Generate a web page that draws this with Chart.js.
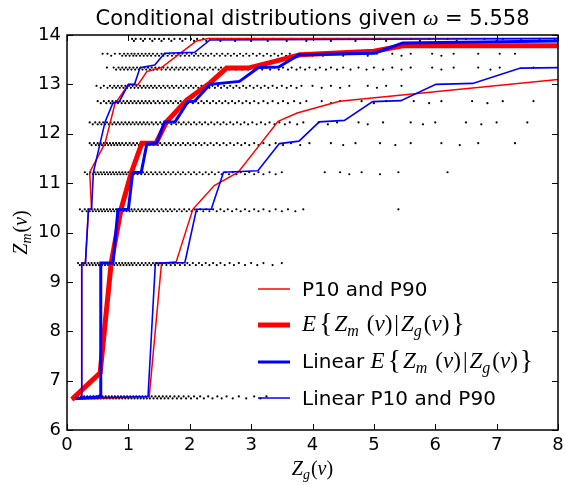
<!DOCTYPE html>
<html>
<head>
<meta charset="utf-8">
<script src="https://cdn.jsdelivr.net/npm/chart.js@4.4.1/dist/chart.umd.min.js"></script>
<style>
html, body { margin: 0; padding: 0; background: #fff; }
</style>
</head>
<body>
<canvas id="chart" width="565" height="485"></canvas>
<script>
// tick labels
const xTickLabels = [0, 1, 2, 3, 4, 5, 6, 7, 8];
const yTickLabels = [6, 7, 8, 9, 10, 11, 12, 13, 14];

// scatter bands: one Z_m level each, with the Z_g values read along it
const bandLevels = [13.92, 13.62, 13.34, 12.97, 12.66, 12.23, 11.81, 11.22, 10.47, 9.38, 6.68];
const band0 = [1.06,1.12,1.2,1.27,1.35,1.43,1.5,1.58,1.66,1.75,1.84,1.93,2.02,2.12,2.22,2.33,2.45,2.56,2.68,2.8,2.93,3.05,3.2,3.35,3.5,3.66,3.82,4.0,4.2,4.4,4.6,4.85,5.1,5.35,5.6,5.9,6.2,6.5,6.8,7.1,7.4,7.7,7.95];
const band1 = [0.58,0.66,0.78,0.86,0.93,0.99,1.05,1.1,1.16,1.22,1.28,1.34,1.4,1.47,1.54,1.6,1.67,1.74,1.81,1.88,1.95,2.03,2.1,2.18,2.26,2.35,2.44,2.53,2.62,2.72,2.82,2.92,3.03,3.14,3.26,3.38,3.5,3.63,3.77,3.92,4.08,4.25,4.42,4.6,4.8,5.05,5.3,5.6,5.95,6.3,6.7,7.05,7.3];
const band2 = [0.65,0.76,0.84,0.9,0.96,1.02,1.08,1.14,1.2,1.26,1.32,1.38,1.44,1.5,1.57,1.64,1.71,1.78,1.85,1.92,2.0,2.08,2.16,2.24,2.33,2.42,2.51,2.6,2.7,2.8,2.9,3.0,3.12,3.25,3.38,3.52,3.66,3.8,3.95,4.12,4.3,4.5,4.75,5.0,5.3,5.6,5.95,6.3,6.7,7.05,7.6];
const band3 = [0.48,0.6,0.7,0.77,0.83,0.89,0.95,1.01,1.07,1.13,1.19,1.25,1.31,1.37,1.43,1.5,1.57,1.64,1.71,1.78,1.86,1.94,2.02,2.1,2.19,2.28,2.37,2.46,2.56,2.66,2.76,2.87,2.98,3.1,3.22,3.35,3.5,3.65,3.82,4.0,4.3,4.6,4.9,5.2,5.45];
const band4 = [0.5,0.6,0.68,0.74,0.8,0.86,0.92,0.98,1.04,1.1,1.16,1.22,1.28,1.34,1.41,1.48,1.55,1.62,1.69,1.77,1.85,1.93,2.01,2.1,2.19,2.28,2.38,2.48,2.58,2.69,2.8,2.92,3.05,3.2,3.35,3.52,3.7,3.9,4.15,4.45,4.8,5.2,5.65,6.1,6.6,7.1,7.6];
const band5 = [0.37,0.46,0.53,0.59,0.65,0.71,0.77,0.83,0.89,0.95,1.01,1.07,1.13,1.19,1.25,1.31,1.38,1.45,1.52,1.59,1.66,1.74,1.82,1.9,1.98,2.07,2.16,2.25,2.35,2.45,2.55,2.66,2.77,2.89,3.02,3.16,3.3,3.46,3.63,3.85,4.1,4.4,4.75,5.15,5.6,6.0,6.5,7.0,7.5];
const band6 = [0.37,0.44,0.5,0.55,0.6,0.65,0.7,0.75,0.8,0.85,0.9,0.96,1.02,1.08,1.14,1.2,1.26,1.32,1.38,1.45,1.52,1.59,1.66,1.73,1.81,1.89,1.97,2.06,2.15,2.24,2.34,2.44,2.55,2.66,2.78,2.9,3.05,3.2,3.4,3.65,3.95,4.3,4.7,5.1,5.6,6.1,6.7,7.3];
const band7 = [0.29,0.38,0.45,0.5,0.55,0.6,0.65,0.7,0.75,0.8,0.85,0.9,0.95,1.0,1.06,1.12,1.18,1.24,1.3,1.37,1.44,1.51,1.58,1.65,1.73,1.81,1.89,1.98,2.07,2.16,2.26,2.36,2.47,2.58,2.7,2.83,2.97,3.12,3.3,3.5,4.2,4.45,4.8,5.4,6.2];
const band8 = [0.21,0.29,0.35,0.4,0.45,0.5,0.55,0.6,0.65,0.7,0.75,0.8,0.85,0.9,0.95,1.0,1.05,1.1,1.16,1.22,1.28,1.34,1.4,1.47,1.54,1.61,1.68,1.75,1.83,1.91,1.99,2.08,2.17,2.27,2.38,2.5,2.62,2.76,2.9,3.05,3.2,3.4,3.6,3.85,5.4];
const band9 = [0.18,0.25,0.3,0.35,0.4,0.45,0.5,0.55,0.6,0.65,0.7,0.75,0.8,0.85,0.9,0.95,1.0,1.05,1.1,1.16,1.22,1.28,1.34,1.4,1.46,1.52,1.59,1.66,1.73,1.8,1.88,1.96,2.05,2.15,2.26,2.38,2.5,2.65,2.8,3.0,3.2,3.5];
const band10 = [0.17,0.23,0.28,0.33,0.38,0.43,0.48,0.53,0.58,0.63,0.68,0.73,0.78,0.83,0.88,0.93,0.98,1.03,1.08,1.13,1.18,1.23,1.28,1.33,1.38,1.44,1.5,1.56,1.62,1.68,1.75,1.82,1.9,1.98,2.07,2.17,2.3,2.45,2.6,2.8,3.05,3.25];

// second, slightly lower row of points inside each band
const bandLevelsB = [13.88, 13.58, 13.30, 12.93, 12.62, 12.19, 11.77, 11.18, 10.43, 9.34, 6.64];
const bandB0 = [1.09,1.24,1.39,1.54,1.7,1.88,2.07,2.27,2.5,2.74,3.0,3.27,3.58,3.9,4.3,4.7,5.2,5.75,6.35,7.0,7.6];
const bandB1 = [0.72,0.9,0.96,1.02,1.08,1.13,1.19,1.25,1.31,1.37,1.44,1.5,1.57,1.64,1.71,1.78,1.85,1.92,1.99,2.07,2.14,2.22,2.3,2.4,2.49,2.58,2.67,2.77,2.87,2.97,3.09,3.2,3.32,3.44,3.57,3.7,3.85,4.0,4.17,4.5,4.9,5.45,6.1];
const bandB2 = [0.8,0.87,0.93,0.99,1.05,1.11,1.17,1.23,1.29,1.35,1.41,1.47,1.54,1.61,1.68,1.75,1.82,1.89,1.96,2.04,2.12,2.2,2.29,2.38,2.47,2.56,2.65,2.75,2.85,2.95,3.06,3.18,3.31,3.45,3.6,3.74,3.88,4.05,4.22,4.4,4.62,4.88,5.15,5.45,6.1,6.9];
const bandB3 = [0.55,0.66,0.74,0.8,0.86,0.92,0.98,1.04,1.1,1.16,1.22,1.28,1.34,1.4,1.46,1.53,1.6,1.67,1.74,1.82,1.9,1.98,2.06,2.14,2.23,2.32,2.41,2.51,2.61,2.71,2.81,2.92,3.04,3.16,3.28,3.42,3.58,3.74,4.15,4.45,5.05];
const bandB4 = [0.55,0.64,0.71,0.77,0.83,0.89,0.95,1.01,1.07,1.13,1.19,1.25,1.31,1.37,1.44,1.51,1.58,1.65,1.73,1.81,1.89,1.97,2.05,2.14,2.23,2.33,2.43,2.53,2.63,2.74,2.86,2.98,3.12,3.27,3.44,3.6,3.8,4.3,5.0,5.9,6.85];
const bandB5 = [0.42,0.5,0.56,0.62,0.68,0.74,0.8,0.86,0.92,0.98,1.04,1.1,1.16,1.22,1.28,1.34,1.41,1.48,1.55,1.62,1.7,1.78,1.86,1.94,2.02,2.11,2.2,2.3,2.4,2.5,2.6,2.71,2.83,2.95,3.09,3.23,3.38,3.55,3.75,4.25,4.9,5.8,6.75];
const bandB6 = [0.4,0.47,0.52,0.57,0.62,0.67,0.72,0.77,0.82,0.87,0.93,0.99,1.05,1.11,1.17,1.23,1.29,1.35,1.41,1.48,1.55,1.62,1.69,1.77,1.85,1.93,2.01,2.1,2.19,2.29,2.39,2.49,2.6,2.72,2.84,2.97,3.12,3.3,3.52,3.8,4.5,5.35,6.4];
const bandB7 = [0.33,0.42,0.47,0.52,0.57,0.62,0.67,0.72,0.77,0.82,0.87,0.92,0.97,1.03,1.09,1.15,1.21,1.27,1.33,1.4,1.47,1.54,1.61,1.69,1.77,1.85,1.93,2.02,2.11,2.21,2.31,2.41,2.52,2.64,2.76,2.9,3.05,3.2,3.4,4.6,5.1];
const bandB8 = [0.25,0.32,0.37,0.42,0.47,0.52,0.57,0.62,0.67,0.72,0.77,0.82,0.87,0.92,0.97,1.02,1.07,1.13,1.19,1.25,1.31,1.37,1.43,1.5,1.57,1.64,1.71,1.79,1.87,1.95,2.03,2.12,2.22,2.32,2.44,2.56,2.69,2.83,2.97,3.12,3.3,3.5,3.72];
const bandB9 = [0.21,0.27,0.32,0.37,0.42,0.47,0.52,0.57,0.62,0.67,0.72,0.77,0.82,0.87,0.92,0.97,1.02,1.07,1.13,1.19,1.25,1.31,1.37,1.43,1.49,1.55,1.62,1.69,1.76,1.84,1.92,2.0,2.1,2.2,2.32,2.44,2.57,2.72,2.9,3.1,3.35];
const bandB10 = [0.2,0.25,0.3,0.35,0.4,0.45,0.5,0.55,0.6,0.65,0.7,0.75,0.8,0.85,0.9,0.95,1.0,1.05,1.1,1.15,1.2,1.25,1.3,1.35,1.41,1.47,1.53,1.59,1.65,1.72,1.79,1.86,1.94,2.02,2.12,2.23,2.37,2.52,2.7,2.92,3.15];

const bandsA = [band0, band1, band2, band3, band4, band5, band6, band7, band8, band9, band10];
const bandsB = [bandB0, bandB1, bandB2, bandB3, bandB4, bandB5, bandB6, bandB7, bandB8, bandB9, bandB10];

// P10 and P90 (red)
const p10X = [0.08,0.24,0.24,0.30,0.35,0.40,0.37,0.62,0.78,1.0,1.16,1.30,1.54,1.95,2.11,2.3,8];
const p10Y = [6.62,6.65,9.38,9.38,10.47,10.47,11.22,11.81,12.6,13.0,13.0,13.26,13.34,13.73,13.88,13.93,13.93];
const p90X = [0.08,1.34,1.54,1.78,2.05,2.4,2.79,3.44,3.75,4.44,8];
const p90Y = [6.62,6.68,9.38,9.41,10.47,10.95,11.22,12.25,12.42,12.66,13.1];

// E{Zm|Zg} (thick red)
const eX = [0.08,0.54,0.72,0.88,1.05,1.22,1.45,1.62,1.95,2.33,2.6,2.95,3.4,3.8,5.0,5.47,8];
const eY = [6.62,7.16,9.38,10.47,11.22,11.81,11.81,12.24,12.68,13.03,13.33,13.33,13.47,13.6,13.67,13.78,13.78];

// linear E{Zm|Zg} (blue)
const linEX = [0.13,0.5,0.54,0.55,0.75,0.83,1.0,1.07,1.21,1.30,1.46,1.59,1.76,1.97,2.08,2.33,2.81,3.12,3.45,3.78,5.01,5.47,8];
const linEY = [6.64,6.67,6.7,9.38,9.38,10.46,10.47,11.21,11.22,11.79,11.81,12.24,12.24,12.65,12.66,13.0,13.06,13.34,13.35,13.6,13.63,13.84,13.88];

// linear P10 and P90 (thin blue)
const linP10X = [0.13,0.24,0.24,0.30,0.35,0.40,0.43,0.54,0.62,0.75,0.85,1.0,1.1,1.19,1.43,1.59,2.08,2.33,8];
const linP10Y = [6.64,6.65,9.38,9.38,10.47,10.47,11.22,11.81,12.24,12.63,12.65,13.0,13.0,13.34,13.39,13.63,13.65,13.9,13.93];
const linP90X = [0.13,1.32,1.44,1.92,2.11,2.35,2.55,3.11,3.46,3.78,4.11,4.52,4.98,5.44,6.01,6.61,7.39,8];
const linP90Y = [6.64,6.68,9.38,9.39,10.47,10.47,11.22,11.25,11.8,11.85,12.24,12.27,12.65,12.67,13.0,13.02,13.33,13.34];

const RED = '#ff0000';
const BLUE = '#0000ff';
const SANS = '"DejaVu Sans", sans-serif';
const SERIF = '"Liberation Serif", serif';

function pts(xs, ys) {
    return xs.map((x, i) => ({ x: x, y: ys[i] }));
}

function lineSet(xs, ys, color, width, order) {
    return {
        data: pts(xs, ys), showLine: true, borderColor: color, borderWidth: width,
        pointRadius: 0, fill: false, tension: 0, order: order
    };
}

const scatterData = [];
bandsA.forEach((b, i) => b.forEach(x => scatterData.push({ x: x, y: bandLevels[i] })));
bandsB.forEach((b, i) => b.forEach(x => scatterData.push({ x: x, y: bandLevelsB[i] })));

// draws a row of text runs with different fonts (g = extra gap before run)
function drawRuns(ctx, runs, x, y, align) {
    let w = 0;
    runs.forEach(r => { ctx.font = r.f; w += ctx.measureText(r.t).width + (r.g || 0); });
    let cx = align === 'center' ? x - w / 2 : x;
    ctx.textBaseline = 'alphabetic';
    ctx.textAlign = 'left';
    runs.forEach(r => {
        ctx.font = r.f;
        cx += r.g || 0;
        ctx.fillText(r.t, cx, y + (r.dy || 0));
        cx += ctx.measureText(r.t).width;
    });
    return w;
}

function mathZ(sub, size) {
    const it = 'italic ' + size + 'px ' + SERIF;
    const rm = size + 'px ' + SERIF;
    const sb = 'italic ' + Math.round(size * 0.7) + 'px ' + SERIF;
    return [
        { t: 'Z', f: it }, { t: sub, f: sb, dy: size * 0.22 },
        { t: '(', f: rm, g: 1 }, { t: 'v', f: it }, { t: ')', f: rm }
    ];
}

function condExpr(size) {
    const it = 'italic ' + size + 'px ' + SERIF;
    const rm = size + 'px ' + SERIF;
    const br = (size + 5) + 'px ' + SERIF;
    const sb = 'italic ' + Math.round(size * 0.7) + 'px ' + SERIF;
    return [
        { t: 'E', f: it }, { t: '{', f: br, g: 3, dy: 1 },
        { t: 'Z', f: it, g: 2 }, { t: 'm', f: sb, dy: size * 0.22 }, { t: '(', f: rm, g: 8 }, { t: 'v', f: it }, { t: ')', f: rm },
        { t: '|', f: rm, g: 2 },
        { t: 'Z', f: it, g: 2 }, { t: 'g', f: sb, dy: size * 0.22 }, { t: '(', f: rm, g: 2 }, { t: 'v', f: it }, { t: ')', f: rm },
        { t: '}', f: br, g: 2, dy: 1 }
    ];
}

const decor = {
    id: 'decor',
    afterDraw(chart) {
        const ctx = chart.ctx;
        const a = chart.chartArea;
        const xs = chart.scales.x, ys = chart.scales.y;
        ctx.save();
        ctx.strokeStyle = '#000';
        ctx.fillStyle = '#000';

        // inward ticks on all four sides
        ctx.lineWidth = 1;
        ctx.beginPath();
        xTickLabels.forEach(v => {
            const px = Math.round(xs.getPixelForValue(v)) + 0.5;
            ctx.moveTo(px, a.bottom); ctx.lineTo(px, a.bottom - 6);
            ctx.moveTo(px, a.top); ctx.lineTo(px, a.top + 6);
        });
        yTickLabels.forEach(v => {
            const py = Math.round(ys.getPixelForValue(v)) + 0.5;
            ctx.moveTo(a.left, py); ctx.lineTo(a.left + 6, py);
            ctx.moveTo(a.right, py); ctx.lineTo(a.right - 6, py);
        });
        ctx.stroke();

        // frame
        ctx.lineWidth = 1.5;
        ctx.strokeRect(a.left, a.top, a.right - a.left, a.bottom - a.top);

        // title
        drawRuns(ctx, [
            { t: 'Conditional distributions given ', f: '21px ' + SANS },
            { t: 'ω', f: 'italic 22px ' + SERIF },
            { t: ' = 5.558', f: '21px ' + SANS }
        ], (a.left + a.right) / 2, 25, 'center');

        // axis labels
        drawRuns(ctx, mathZ('g', 20), (a.left + a.right) / 2, 475, 'center');
        ctx.save();
        ctx.translate(27, (a.top + a.bottom) / 2);
        ctx.rotate(-Math.PI / 2);
        drawRuns(ctx, mathZ('m', 20), 0, 0, 'center');
        ctx.restore();

        // legend
        const rows = [289, 325, 362, 398];
        const handles = [[RED, 1.5], [RED, 5], [BLUE, 3], [BLUE, 1.5]];
        handles.forEach((h, i) => {
            ctx.strokeStyle = h[0];
            ctx.lineWidth = h[1];
            ctx.beginPath();
            ctx.moveTo(258, rows[i]); ctx.lineTo(290, rows[i]);
            ctx.stroke();
        });
        const tx = 302;
        const sans = '20px ' + SANS;
        drawRuns(ctx, [{ t: 'P10 and P90', f: sans }], tx, rows[0] + 7);
        drawRuns(ctx, condExpr(23), tx, rows[1] + 6);
        drawRuns(ctx, [{ t: 'Linear ', f: sans }].concat(condExpr(23)), tx, rows[2] + 6);
        drawRuns(ctx, [{ t: 'Linear P10 and P90', f: sans }], tx, rows[3] + 7);
        ctx.restore();
    }
};

new Chart(document.getElementById('chart'), {
    type: 'scatter',
    data: {
        datasets: [
            { data: scatterData, pointRadius: 1.1, pointBackgroundColor: '#000', pointBorderWidth: 0, showLine: false, order: 10 },
            lineSet(p10X, p10Y, RED, 1.5, 6),
            lineSet(p90X, p90Y, RED, 1.5, 6),
            lineSet(eX, eY, RED, 5, 5),
            lineSet(linEX, linEY, BLUE, 3, 4),
            lineSet(linP10X, linP10Y, BLUE, 1.6, 3),
            lineSet(linP90X, linP90Y, BLUE, 1.6, 3)
        ]
    },
    options: {
        responsive: false,
        animation: false,
        devicePixelRatio: 1,
        layout: { padding: { left: 0, right: 7, top: 35, bottom: 0 } },
        plugins: { legend: { display: false }, title: { display: false }, tooltip: { enabled: false } },
        scales: {
            x: {
                type: 'linear', min: 0, max: 8,
                grid: { display: false, drawTicks: false },
                border: { display: false },
                ticks: { color: '#000', font: { family: 'DejaVu Sans', size: 18 }, padding: 5, maxRotation: 0 },
                afterBuildTicks: s => { s.ticks = xTickLabels.map(v => ({ value: v })); },
                afterFit: s => { s.height = 55; s.paddingLeft = 0; s.paddingRight = 0; }
            },
            y: {
                type: 'linear', min: 6, max: 14,
                grid: { display: false, drawTicks: false },
                border: { display: false },
                ticks: { color: '#000', font: { family: 'DejaVu Sans', size: 18 }, padding: 6 },
                afterBuildTicks: s => { s.ticks = yTickLabels.map(v => ({ value: v })); },
                afterFit: s => { s.width = 67; s.paddingTop = 0; s.paddingBottom = 0; }
            }
        }
    },
    plugins: [decor]
});
</script>
</body>
</html>
